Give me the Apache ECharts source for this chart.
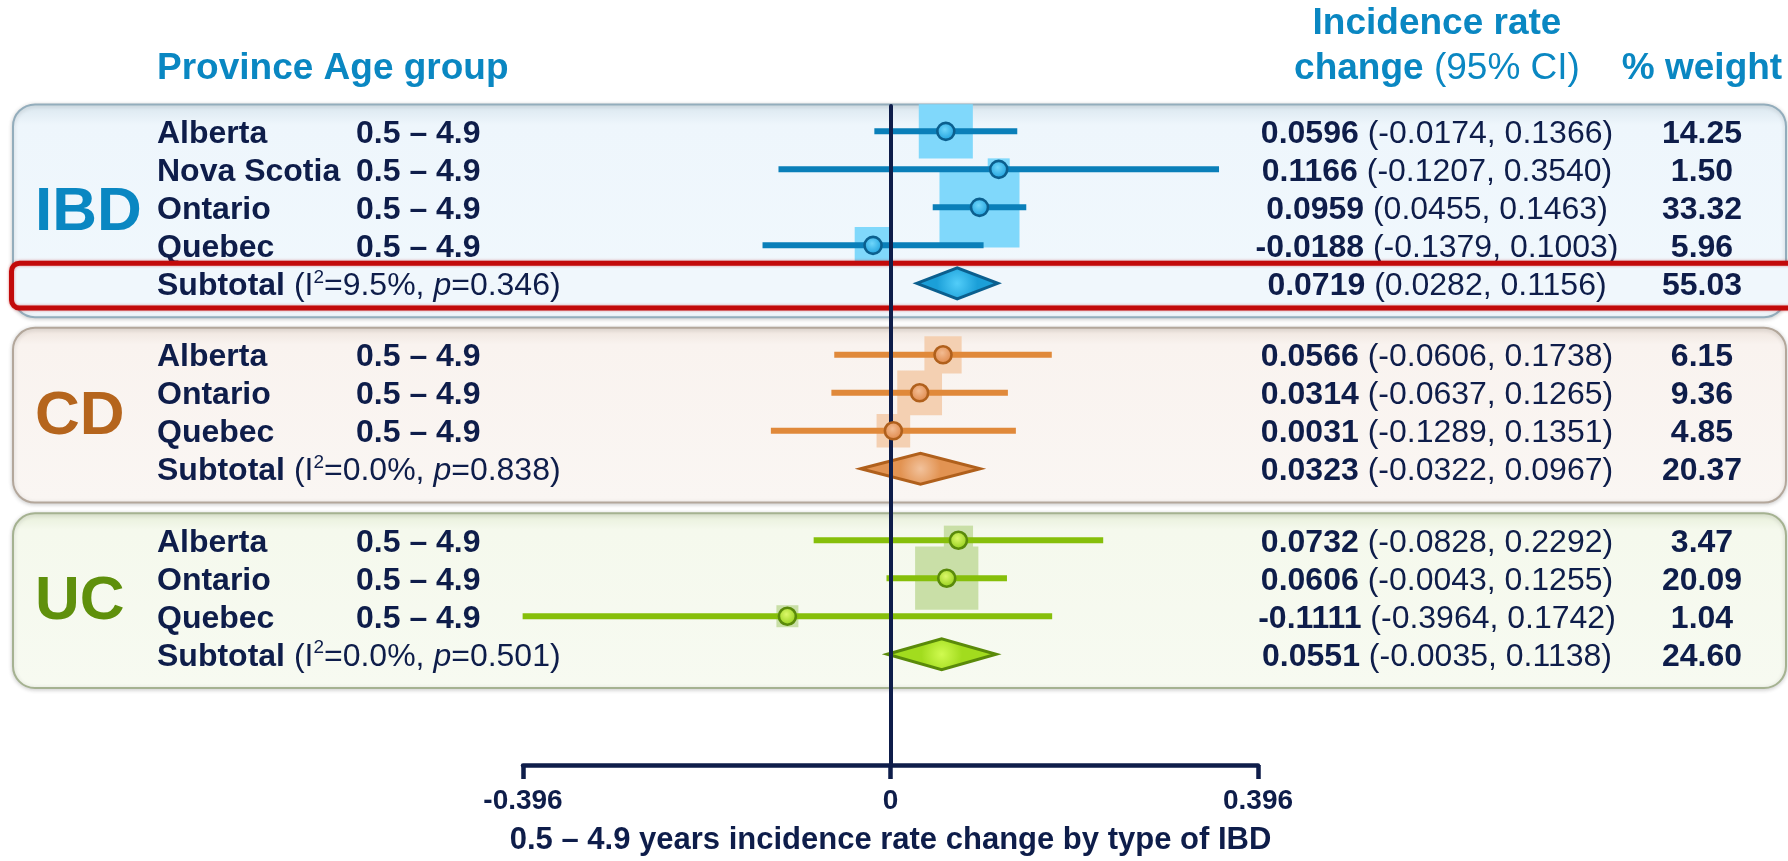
<!DOCTYPE html>
<html>
<head>
<meta charset="utf-8">
<script src="https://cdn.jsdelivr.net/npm/echarts@6/dist/echarts.min.js"></script>
<style>
html,body{margin:0;padding:0;background:#ffffff;}
#c{width:1788px;height:861px;}
</style>
</head>
<body>
<div id="c"></div>
<script>
// ---------------- DATA ----------------
const groupNames = ['IBD', 'CD', 'UC'];
const studyGroup = [0, 0, 0, 0, 1, 1, 1, 2, 2, 2];
const studyProvince = ['Alberta', 'Nova Scotia', 'Ontario', 'Quebec', 'Alberta', 'Ontario', 'Quebec', 'Alberta', 'Ontario', 'Quebec'];
const studyAge = ['0.5 – 4.9', '0.5 – 4.9', '0.5 – 4.9', '0.5 – 4.9', '0.5 – 4.9', '0.5 – 4.9', '0.5 – 4.9', '0.5 – 4.9', '0.5 – 4.9', '0.5 – 4.9'];
const studyEst = [0.0596, 0.1166, 0.0959, -0.0188, 0.0566, 0.0314, 0.0031, 0.0732, 0.0606, -0.1111];
const studyLo = [-0.0174, -0.1207, 0.0455, -0.1379, -0.0606, -0.0637, -0.1289, -0.0828, -0.0043, -0.3964];
const studyHi = [0.1366, 0.3540, 0.1463, 0.1003, 0.1738, 0.1265, 0.1351, 0.2292, 0.1255, 0.1742];
const studyWeight = [14.25, 1.50, 33.32, 5.96, 6.15, 9.36, 4.85, 3.47, 20.09, 1.04];
const subEst = [0.0719, 0.0323, 0.0551];
const subLo = [0.0282, -0.0322, -0.0035];
const subHi = [0.1156, 0.0967, 0.1138];
const subWeight = [55.03, 20.37, 24.60];
const subI2 = ['9.5%', '0.0%', '0.0%'];
const subP = ['0.346', '0.838', '0.501'];
const xTickValues = [-0.396, 0, 0.396];
const xAxisTitle = '0.5 – 4.9 years incidence rate change by type of IBD';
const headerLeft = 'Province Age group';
const headerEst1 = 'Incidence rate';
const headerEst2a = 'change';
const headerEst2b = '(95% CI)';
const headerWeight = '% weight';
const subtotalWord = 'Subtotal';

// ---------------- STYLE ----------------
const FONT = '"Liberation Sans", Arial, Helvetica, sans-serif';
const NAVY = '#0e1d4a';
const BLUE = '#0a87c2';
const C = {
  label: ['#0a87c2', '#b5651d', '#5f900c'],
  ci: ['#0a7fb9', '#e0893a', '#86bf0a'],
  box: ['#80d8fb', '#f4d0b2', '#c9dfa7'],
  dotIn: ['#6fd6fb', '#f3bc92', '#dcf86a'],
  dotOut: ['#1a9edb', '#de8546', '#90cc16'],
  dotStroke: ['#0b5f8e', '#b0601c', '#5a8a0a'],
  diaIn: ['#52cdf9', '#f2c29c', '#d0fa50'],
  diaOut: ['#1b9fd8', '#e29352', '#a2dc1e'],
  diaStroke: ['#0b5f8e', '#b0601c', '#5a8a0a'],
  pTop: ['#d9e6ee', '#ede3dc', '#e6eed8'],
  pFill: ['#eef6fc', '#f9f3ef', '#f5f9ed'],
  pBot: ['#f1f8fd', '#faf6f3', '#f7faf1'],
  pStroke: ['#93adbc', '#b3a79b', '#a5b291']
};

// ---------------- LAYOUT (rows) ----------------
const GROUP_GAP = 1.88;
const studyRow = [];
const subRow = [];
const panelRange = [];
(function () {
  let r = 0;
  for (let g = 0; g < groupNames.length; g++) {
    const first = r;
    for (let i = 0; i < studyGroup.length; i++) {
      if (studyGroup[i] === g) { studyRow[i] = r; r += 1; }
    }
    subRow[g] = r;
    panelRange[g] = [first, r];
    r += GROUP_GAP;
  }
})();

const TXT_DY = 2.5; // text sits slightly below the marks
function fmt4(v) { return v.toFixed(4); }
function boxSide(w) { return Math.max(22, 5 + 13 * Math.sqrt(w)); }
function txt(x, y, text, align, font, color) {
  return {
    type: 'text', x: x, y: y,
    style: {
      text: text, font: font, fill: color || NAVY,
      align: align, verticalAlign: 'middle', textAlign: align, textVerticalAlign: 'middle'
    }
  };
}
function rich(x, y, text, align, baseFont, richDef, color) {
  return {
    type: 'text', x: x, y: y,
    style: {
      text: text, font: baseFont, fill: color || NAVY, rich: richDef,
      align: align, verticalAlign: 'middle', textAlign: align, textVerticalAlign: 'middle'
    }
  };
}
const rowRich = {
  b: { font: 'bold 32px ' + FONT, fill: NAVY, lineHeight: 36 },
  r: { font: '32px ' + FONT, fill: NAVY, lineHeight: 36 }
};
const subRich = {
  b: { font: 'bold 32px ' + FONT, fill: NAVY, lineHeight: 36 },
  r: { font: '32px ' + FONT, fill: NAVY, lineHeight: 36 },
  i: { font: 'italic 32px ' + FONT, fill: NAVY, lineHeight: 36 },
  sup: { font: '19px ' + FONT, fill: NAVY, lineHeight: 24, verticalAlign: 'top' }
};

const COL_PROV = 157, COL_AGE = 356, COL_EST = 1437, COL_W = 1702;

const chart = echarts.init(document.getElementById('c'), null, { renderer: 'canvas', width: 1788, height: 861 });

const studyData = studyEst.map((e, i) => [e, studyRow[i], studyLo[i], studyHi[i], studyWeight[i]]);
const subData = subEst.map((e, g) => [e, subRow[g], subLo[g], subHi[g], subWeight[g]]);
const groupData = groupNames.map((n, g) => [0, (panelRange[g][0] + panelRange[g][1]) / 2]);

const option = {
  backgroundColor: '#ffffff',
  animation: false,
  grid: { left: 523, right: 530, top: 106, bottom: 92.5, containLabel: false },
  xAxis: {
    type: 'value', min: -0.396, max: 0.396, interval: 0.396,
    axisLine: { show: true, onZero: false, lineStyle: { color: NAVY, width: 4.5 } },
    axisTick: { show: true, inside: false, length: 14, lineStyle: { color: NAVY, width: 4.5 } },
    splitLine: { show: false },
    axisLabel: {
      margin: 22, color: NAVY, fontSize: 28, fontWeight: 'bold', fontFamily: FONT,
      formatter: function (v) {
        for (const t of xTickValues) { if (Math.abs(v - t) < 1e-9) return t === 0 ? '0' : t.toFixed(3); }
        return '';
      }
    },
    name: xAxisTitle, nameLocation: 'middle', nameGap: 60,
    nameTextStyle: { color: NAVY, fontSize: 31, fontWeight: 'bold', fontFamily: FONT }
  },
  yAxis: {
    type: 'value', inverse: true, min: -0.6675, max: 16.675, z: 6,
    axisLine: { show: true, onZero: true, lineStyle: { color: NAVY, width: 4 } },
    axisTick: { show: false }, axisLabel: { show: false }, splitLine: { show: false }
  },
  graphic: [
    txt(COL_PROV, 68.5, headerLeft, 'left', 'bold 37px ' + FONT, BLUE),
    txt(COL_EST, 24, headerEst1, 'center', 'bold 37px ' + FONT, BLUE),
    rich(COL_EST, 69, '{b|' + headerEst2a + '} {r|' + headerEst2b + '}', 'center', '37px ' + FONT, {
      b: { font: 'bold 37px ' + FONT, fill: BLUE },
      r: { font: '37px ' + FONT, fill: BLUE }
    }, BLUE),
    txt(COL_W, 69, headerWeight, 'center', 'bold 37px ' + FONT, BLUE)
  ],
  series: [
    { // panels
      type: 'custom', z: 1, clip: false, silent: true,
      data: groupData,
      renderItem: function (params, api) {
        const g = params.dataIndex;
        const y1 = api.coord([0, panelRange[g][0] - 0.71])[1];
        const y2 = api.coord([0, panelRange[g][1] + 0.89])[1];
        return {
          type: 'rect',
          shape: { x: 13, y: y1, width: api.getWidth() - 15, height: y2 - y1, r: 22 },
          style: {
            fill: new echarts.graphic.LinearGradient(0, 0, 0, 1, [
              { offset: 0, color: C.pTop[g] }, { offset: 0.1, color: C.pFill[g] }, { offset: 1, color: C.pBot[g] }
            ]),
            stroke: C.pStroke[g], lineWidth: 2,
            shadowBlur: 4, shadowColor: 'rgba(0,0,0,0.18)', shadowOffsetY: 1
          }
        };
      }
    },
    { // weight squares
      type: 'custom', z: 2, clip: false, silent: true,
      data: studyData,
      renderItem: function (params, api) {
        const g = studyGroup[params.dataIndex];
        const c = api.coord([api.value(0), api.value(1)]);
        const s = boxSide(api.value(4));
        return { type: 'rect', shape: { x: c[0] - s / 2, y: c[1] - s / 2, width: s, height: s }, style: { fill: C.box[g] } };
      }
    },
    { // CI lines
      type: 'custom', z: 3, clip: false, silent: true,
      data: studyData,
      renderItem: function (params, api) {
        const g = studyGroup[params.dataIndex];
        const a = api.coord([api.value(2), api.value(1)]);
        const b = api.coord([api.value(3), api.value(1)]);
        return { type: 'line', shape: { x1: a[0], y1: a[1], x2: b[0], y2: b[1] }, style: { stroke: C.ci[g], lineWidth: 6 } };
      }
    },
    { // study text
      type: 'custom', z: 4, clip: false, silent: true,
      data: studyData,
      renderItem: function (params, api) {
        const i = params.dataIndex;
        const y = api.coord([0, api.value(1)])[1] + TXT_DY;
        return {
          type: 'group', children: [
            txt(COL_PROV, y, studyProvince[i], 'left', 'bold 32px ' + FONT),
            txt(COL_AGE, y, studyAge[i], 'left', 'bold 32px ' + FONT),
            rich(COL_EST, y, '{b|' + fmt4(api.value(0)) + '} {r|(' + fmt4(api.value(2)) + ', ' + fmt4(api.value(3)) + ')}', 'center', '32px ' + FONT, rowRich),
            txt(COL_W, y, api.value(4).toFixed(2), 'center', 'bold 32px ' + FONT)
          ]
        };
      }
    },
    { // red highlight box around the IBD subtotal
      type: 'custom', z: 5, clip: false, silent: true,
      data: [subData[0]],
      renderItem: function (params, api) {
        const y1 = api.coord([0, api.value(1) - 0.53])[1];
        const y2 = api.coord([0, api.value(1) + 0.65])[1];
        return {
          type: 'rect',
          shape: { x: 11.5, y: y1, width: api.getWidth(), height: y2 - y1, r: 8 },
          style: { fill: '#f0f7fc', stroke: '#c20a0a', lineWidth: 5, shadowBlur: 3, shadowColor: 'rgba(190,0,0,0.45)' }
        };
      }
    },
    { // subtotal diamonds
      type: 'custom', z: 5.5, clip: false, silent: true,
      data: subData,
      renderItem: function (params, api) {
        const g = params.dataIndex;
        const m = api.coord([api.value(0), api.value(1)]);
        const l = api.coord([api.value(2), api.value(1)]);
        const r = api.coord([api.value(3), api.value(1)]);
        const h = 15.5;
        return {
          type: 'polygon',
          shape: { points: [[l[0], m[1]], [m[0], m[1] - h], [r[0], m[1]], [m[0], m[1] + h]] },
          style: {
            fill: new echarts.graphic.RadialGradient(0.5, 0.5, 0.6, [
              { offset: 0, color: C.diaIn[g] }, { offset: 1, color: C.diaOut[g] }
            ]),
            stroke: C.diaStroke[g], lineWidth: 3, lineJoin: 'miter'
          }
        };
      }
    },
    { // study point estimates
      type: 'custom', z: 7, clip: false, silent: true,
      data: studyData,
      renderItem: function (params, api) {
        const g = studyGroup[params.dataIndex];
        const c = api.coord([api.value(0), api.value(1)]);
        return {
          type: 'circle', shape: { cx: c[0], cy: c[1], r: 8.5 },
          style: {
            fill: new echarts.graphic.RadialGradient(0.45, 0.4, 0.6, [
              { offset: 0, color: C.dotIn[g] }, { offset: 1, color: C.dotOut[g] }
            ]),
            stroke: C.dotStroke[g], lineWidth: 2.6
          }
        };
      }
    },
    { // subtotal text
      type: 'custom', z: 8, clip: false, silent: true,
      data: subData,
      renderItem: function (params, api) {
        const g = params.dataIndex;
        const y = api.coord([0, api.value(1)])[1] + TXT_DY;
        return {
          type: 'group', children: [
            rich(COL_PROV, y, '{b|' + subtotalWord + '} {r|(I}{sup|2}{r|=' + subI2[g] + ', }{i|p}{r|=' + subP[g] + ')}', 'left', '32px ' + FONT, subRich),
            rich(COL_EST, y, '{b|' + fmt4(api.value(0)) + '} {r|(' + fmt4(api.value(2)) + ', ' + fmt4(api.value(3)) + ')}', 'center', '32px ' + FONT, rowRich),
            txt(COL_W, y, api.value(4).toFixed(2), 'center', 'bold 32px ' + FONT)
          ]
        };
      }
    },
    { // group labels
      type: 'custom', z: 8, clip: false, silent: true,
      data: groupData,
      renderItem: function (params, api) {
        const g = params.dataIndex;
        const y = api.coord([0, api.value(1) + 0.07])[1] + TXT_DY;
        return txt(35, y, groupNames[g], 'left', 'bold 62px ' + FONT, C.label[g]);
      }
    }
  ]
};
chart.setOption(option);
</script>
</body>
</html>
